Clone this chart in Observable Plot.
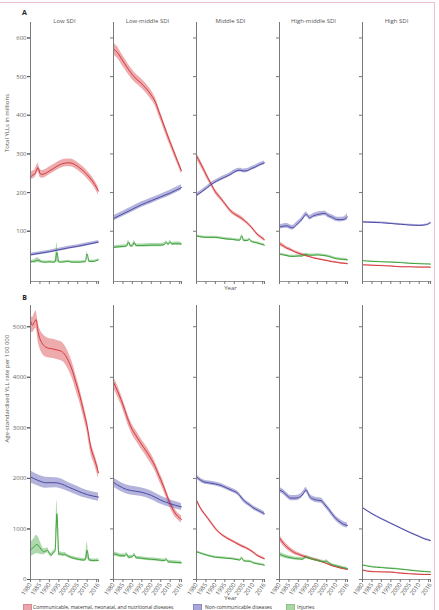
<!DOCTYPE html>
<html><head><meta charset="utf-8">
<script src="https://cdn.jsdelivr.net/npm/d3@7"></script>
<script src="https://cdn.jsdelivr.net/npm/@observablehq/plot@0.6"></script>
<style>
body{margin:0;background:#fff;font-family:"Open Sans",sans-serif;}
#wrap{position:relative;width:439px;height:610px;overflow:hidden;background:#fff;}
#border{position:absolute;left:-4px;top:2px;width:438px;height:640px;border-top:1.5px solid #efc0d0;border-right:1.5px solid #efc0d0;pointer-events:none;}
#pa{position:absolute;left:0;top:0;}
#pb{position:absolute;left:0;top:290px;}
#pa svg,#pb svg{overflow:visible;}
#legend{position:absolute;left:0;top:601px;width:439px;height:12px;font-size:5px;color:#333;}
#legend .sw{position:absolute;top:3px;width:9px;height:7px;box-sizing:border-box;}
#legend .lb{position:absolute;top:3px;white-space:nowrap;line-height:7px;}
</style></head>
<body><div id="wrap"><div id="pa"></div><div id="pb"></div><div id="legend"></div><div id="border"></div></div>
<script>
const sdiNames = ["Low SDI","Low-middle SDI","Middle SDI","High-middle SDI","High SDI"];
const causes = ["Communicable, maternal, neonatal, and nutritional diseases","Non-communicable diseases","Injuries"];
const lineColors = ["#d4383c","#4c4aa9","#3fa33b"];
const swatchFill = ["#eaa6ab","#a9a7d8","#a9d6a2"];
const swatchStroke = ["#d98a90","#8c8ac4","#8cc385"];
const yTicksA = [100,200,300,400,500,600];
const yTicksB = [0,1000,2000,3000,4000,5000];
const xTicks = [1980,1985,1990,1995,2000,2005,2010,2015,2016];
const xLabels = ["1980","1985","1990","1995","2000","2005","2010","","2016"];

// [year, value, uncertainty half-width] — Panel A: total YLLs in millions
const A_low_cmnn = [[1980,240,10],[1981,245,10],[1982,247,10],[1983,255,11],[1984,265,11],[1985,250,10],[1986,247,10],[1988,250,10],[1990,256,10],[1992,262,10],[1994,268,10],[1996,273,10],[1998,276,10],[2000,277,10],[2002,276,10],[2004,271,10],[2006,264,10],[2008,256,10],[2010,246,10],[2012,235,10],[2014,221,10],[2016,204,10]];
const A_low_ncd = [[1980,39,4],[1985,43,4],[1990,47,4],[1995,52,4],[2000,57,4],[2005,61,4],[2010,66,4],[2016,72,4]];
const A_low_inj = [[1980,21,3],[1982,22,4],[1983,24,6],[1984,25,6],[1985,23,5],[1986,21,3],[1988,20,3],[1990,21,3],[1992,20,3],[1993,21,3],[1994,45,25],[1995,21,3],[1996,20,3],[1998,21,3],[2000,22,3],[2002,20,3],[2005,20,3],[2008,21,3],[2009,21,3],[2010,41,6],[2011,22,3],[2013,22,3],[2016,26,3]];
const A_lmid_cmnn = [[1980,571,15],[1982,563,15],[1984,548,14],[1986,533,14],[1988,518,13],[1990,505,13],[1992,494,12],[1994,486,12],[1996,476,12],[1998,465,12],[2000,452,12],[2002,436,11],[2004,410,11],[2006,383,10],[2008,356,10],[2010,330,9],[2012,305,9],[2014,280,8],[2016,256,8]];
const A_lmid_ncd = [[1980,133,7],[1985,145,7],[1990,157,7],[1995,169,7],[2000,179,7],[2005,189,7],[2010,199,7],[2016,213,7]];
const A_lmid_inj = [[1980,58,4],[1983,60,4],[1986,61,4],[1987,62,4],[1988,72,5],[1989,62,4],[1990,62,4],[1991,71,5],[1992,63,4],[1995,63,4],[2000,64,4],[2005,64,4],[2007,66,4],[2008,71,4],[2009,66,4],[2010,72,4],[2011,67,4],[2013,68,4],[2016,67,4]];
const A_mid_cmnn = [[1980,295,8],[1982,277,8],[1984,258,7],[1986,238,7],[1988,220,6],[1990,202,6],[1992,190,6],[1994,178,5],[1996,165,5],[1998,153,5],[2000,145,5],[2002,139,5],[2004,133,5],[2006,125,4],[2008,116,4],[2010,105,4],[2012,93,4],[2014,85,4],[2016,78,4]];
const A_mid_ncd = [[1980,193,5],[1983,203,5],[1986,214,5],[1989,225,5],[1992,233,5],[1995,240,5],[1998,247,5],[2001,256,5],[2003,258,5],[2005,256,5],[2007,257,5],[2009,262,5],[2011,266,5],[2013,271,5],[2016,277,5]];
const A_mid_inj = [[1980,88,3],[1983,85,3],[1986,84,3],[1990,84,3],[1993,82,3],[1996,80,3],[1999,79,3],[2002,77,3],[2003,77,3],[2004,88,3],[2005,76,3],[2007,76,3],[2008,79,3],[2009,74,3],[2012,70,3],[2016,64,3]];
const A_hmid_cmnn = [[1980,68,5],[1982,62,5],[1984,56,4],[1986,52,4],[1988,47,3],[1990,43,3],[1992,40,3],[1994,37,3],[1996,34,2],[1998,31,2],[2000,29,2],[2002,27,2],[2004,25,2],[2006,23,2],[2008,21,2],[2010,20,2],[2012,18,2],[2014,17,2],[2016,16,2]];
const A_hmid_ncd = [[1980,111,6],[1982,113,6],[1984,114,6],[1985,112,6],[1987,109,6],[1989,117,6],[1991,126,6],[1993,138,6],[1994,144,6],[1995,140,6],[1996,135,6],[1998,140,6],[2000,143,6],[2002,145,6],[2004,146,6],[2006,140,6],[2008,136,6],[2010,131,6],[2012,130,6],[2014,131,6],[2016,137,8]];
const A_hmid_inj = [[1980,41,3],[1982,39,3],[1984,37,3],[1986,35,3],[1988,35,3],[1990,36,3],[1992,36,3],[1994,40,3],[1996,38,3],[1998,38,3],[2000,39,3],[2002,38,3],[2004,37,3],[2006,35,3],[2008,32,3],[2010,29,3],[2012,28,3],[2014,27,3],[2016,26,3]];
const A_high_cmnn = [[1980,13,1],[1985,12,1],[1990,11,1],[1995,10,1],[2000,8,1],[2005,8,1],[2010,7,1],[2016,7,1]];
const A_high_ncd = [[1980,124,2],[1985,123,2],[1990,122,2],[1995,120,2],[2000,118,2],[2005,116,2],[2010,115,2],[2014,117,2],[2016,122,2]];
const A_high_inj = [[1980,24,1],[1985,22,1],[1990,21,1],[1995,20,1],[2000,19,1],[2005,17,1],[2010,16,1],[2016,15,1]];

// Panel B: age-standardised YLL rate per 100 000
const B_low_cmnn = [[1980,5125,150],[1981,5030,150],[1982,5090,160],[1983,5140,170],[1984,4900,180],[1985,4760,190],[1986,4680,200],[1988,4600,200],[1990,4570,190],[1992,4560,190],[1994,4540,190],[1996,4520,190],[1998,4460,180],[2000,4330,170],[2002,4150,160],[2004,3900,150],[2006,3650,140],[2008,3350,130],[2010,3030,120],[2012,2600,120],[2014,2370,110],[2016,2110,110]];
const B_low_ncd = [[1980,2030,120],[1984,1960,110],[1988,1915,110],[1993,1915,100],[1996,1895,100],[2000,1830,90],[2005,1750,90],[2010,1680,80],[2016,1630,80]];
const B_low_inj = [[1980,580,130],[1981,620,150],[1982,650,160],[1983,690,180],[1984,680,170],[1985,630,130],[1986,580,90],[1987,550,60],[1988,560,50],[1989,580,50],[1990,520,40],[1991,480,40],[1992,530,40],[1993,560,40],[1994,1300,270],[1995,500,40],[1996,510,40],[1997,490,40],[1998,500,40],[1999,480,30],[2000,460,30],[2002,430,30],[2004,410,30],[2006,395,30],[2008,385,30],[2009,390,30],[2010,580,160],[2011,390,30],[2013,375,30],[2016,380,30]];
const B_lmid_cmnn = [[1980,3900,110],[1982,3740,110],[1984,3560,100],[1986,3350,100],[1988,3130,100],[1990,2960,100],[1992,2840,100],[1994,2720,100],[1996,2610,100],[1998,2500,100],[2000,2380,100],[2002,2240,90],[2004,2060,90],[2006,1890,90],[2008,1690,80],[2010,1500,80],[2012,1350,80],[2014,1250,70],[2016,1190,70]];
const B_lmid_ncd = [[1980,1920,90],[1983,1850,90],[1987,1780,90],[1991,1750,90],[1995,1725,85],[2000,1665,85],[2005,1570,80],[2010,1500,75],[2016,1435,70]];
const B_lmid_inj = [[1980,510,40],[1982,490,40],[1984,470,35],[1986,470,35],[1987,500,35],[1988,440,35],[1990,450,30],[1991,490,30],[1992,430,30],[1995,420,30],[1998,405,30],[2000,400,30],[2003,390,30],[2005,380,30],[2007,375,30],[2008,395,30],[2009,350,30],[2012,340,30],[2016,330,30]];
const B_mid_cmnn = [[1980,1570,30],[1982,1420,30],[1984,1310,30],[1986,1210,30],[1988,1110,30],[1990,1010,30],[1992,930,25],[1994,870,25],[1996,820,25],[1998,780,25],[2000,740,25],[2002,700,25],[2004,660,25],[2006,630,25],[2008,590,25],[2010,540,25],[2012,480,25],[2014,440,25],[2016,410,25]];
const B_mid_ncd = [[1980,2030,40],[1982,1970,40],[1984,1930,40],[1987,1910,40],[1990,1890,40],[1993,1860,40],[1996,1810,40],[1999,1760,40],[2002,1700,40],[2004,1610,40],[2006,1530,40],[2008,1480,40],[2010,1420,40],[2013,1360,40],[2016,1300,40]];
const B_mid_inj = [[1980,550,20],[1983,510,20],[1986,475,20],[1990,440,20],[1993,430,20],[1996,420,20],[1999,410,20],[2002,390,20],[2003,385,20],[2004,430,20],[2005,370,20],[2007,360,20],[2008,360,20],[2010,330,20],[2013,305,20],[2016,283,20]];
const B_hmid_cmnn = [[1980,820,60],[1982,720,55],[1984,640,50],[1986,580,45],[1988,530,40],[1990,500,35],[1992,470,30],[1994,445,30],[1996,420,25],[1998,400,25],[2000,380,25],[2002,355,20],[2004,330,20],[2006,300,20],[2008,270,20],[2010,250,20],[2012,230,20],[2014,215,20],[2016,200,20]];
const B_hmid_ncd = [[1980,1770,50],[1982,1730,50],[1984,1660,50],[1986,1610,50],[1988,1610,50],[1990,1620,50],[1992,1670,50],[1993,1720,50],[1994,1770,50],[1995,1720,50],[1996,1640,50],[1998,1590,50],[2000,1570,50],[2002,1560,50],[2004,1480,50],[2006,1390,50],[2008,1290,50],[2010,1200,50],[2012,1140,50],[2014,1090,50],[2016,1070,50]];
const B_hmid_inj = [[1980,500,40],[1982,470,40],[1984,445,35],[1986,430,35],[1988,415,30],[1990,410,30],[1992,400,30],[1994,440,30],[1996,420,30],[1998,395,25],[2000,380,25],[2002,360,25],[2004,350,25],[2005,365,25],[2006,330,25],[2008,290,20],[2010,270,20],[2012,250,20],[2014,230,20],[2016,215,20]];
const B_high_cmnn = [[1980,185,8],[1985,155,8],[1990,150,8],[1995,145,8],[2000,125,8],[2005,112,8],[2010,102,8],[2016,98,8]];
const B_high_ncd = [[1980,1420,15],[1985,1300,15],[1990,1200,15],[1995,1110,15],[2000,1020,15],[2005,930,15],[2010,850,15],[2013,800,15],[2016,770,15]];
const B_high_inj = [[1980,285,10],[1985,250,10],[1990,235,10],[1995,220,10],[2000,205,10],[2005,185,10],[2010,165,10],[2016,150,10]];

function rows(sdi, cause, arr){ return arr.map(([year,v,h]) => ({sdi, cause, year, v, lo: v - h, hi: v + h})); }
const [C, N, I] = causes;
const dataA = [].concat(
  rows(sdiNames[0],C,A_low_cmnn), rows(sdiNames[0],N,A_low_ncd), rows(sdiNames[0],I,A_low_inj),
  rows(sdiNames[1],C,A_lmid_cmnn), rows(sdiNames[1],N,A_lmid_ncd), rows(sdiNames[1],I,A_lmid_inj),
  rows(sdiNames[2],C,A_mid_cmnn), rows(sdiNames[2],N,A_mid_ncd), rows(sdiNames[2],I,A_mid_inj),
  rows(sdiNames[3],C,A_hmid_cmnn), rows(sdiNames[3],N,A_hmid_ncd), rows(sdiNames[3],I,A_hmid_inj),
  rows(sdiNames[4],C,A_high_cmnn), rows(sdiNames[4],N,A_high_ncd), rows(sdiNames[4],I,A_high_inj));
const dataB = [].concat(
  rows(sdiNames[0],C,B_low_cmnn), rows(sdiNames[0],N,B_low_ncd), rows(sdiNames[0],I,B_low_inj),
  rows(sdiNames[1],C,B_lmid_cmnn), rows(sdiNames[1],N,B_lmid_ncd), rows(sdiNames[1],I,B_lmid_inj),
  rows(sdiNames[2],C,B_mid_cmnn), rows(sdiNames[2],N,B_mid_ncd), rows(sdiNames[2],I,B_mid_inj),
  rows(sdiNames[3],C,B_hmid_cmnn), rows(sdiNames[3],N,B_hmid_ncd), rows(sdiNames[3],I,B_hmid_inj),
  rows(sdiNames[4],C,B_high_cmnn), rows(sdiNames[4],N,B_high_ncd), rows(sdiNames[4],I,B_high_inj));

function panel(data, opts){
  return Plot.plot({
    width: 439, height: opts.height,
    marginTop: opts.marginTop, marginBottom: opts.marginBottom, marginLeft: 29, marginRight: 8,
    style: {fontFamily: "'Open Sans', sans-serif", fontSize: "6px", color: "#555", background: "transparent"},
    fx: {domain: sdiNames, padding: 0.186, axis: null},
    x: {domain: [1980, 2016], axis: null},
    y: {domain: opts.yDomain, axis: null},
    color: {domain: causes, range: lineColors},
    marks: [
      Plot.areaY(data, {fx: "sdi", x: "year", y1: "lo", y2: "hi", z: "cause", fill: "cause", fillOpacity: 0.42, curve: "monotone-x"}),
      Plot.lineY(data, {fx: "sdi", x: "year", y: "v", z: "cause", stroke: "cause", strokeWidth: 1, curve: "monotone-x"}),
      Plot.ruleX([1980], {stroke: "#7a7a7a", strokeWidth: 1}),
      Plot.ruleY([opts.yDomain[0]], {stroke: "#7a7a7a", strokeWidth: 0.8}),
      Plot.axisY({ticks: opts.yTicks, tickSize: 3, tickFormat: () => "", facetAnchor: null, stroke: "#777"}),
      Plot.axisY({ticks: opts.yTicks, tickSize: 3, tickPadding: 1, tickFormat: d => String(d), fill: "#666", label: null, fontSize: 6}),
      opts.showYears
        ? Plot.axisX({ticks: xTicks, tickSize: 3, tickPadding: 1, tickRotate: -55, tickFormat: d => xLabels[xTicks.indexOf(d)], label: null, facetAnchor: null, fontSize: 6, fill: "#555", stroke: "#777"})
        : Plot.axisX({ticks: xTicks, tickSize: 3, tickFormat: () => "", label: null, facetAnchor: null, stroke: "#777"}),
      Plot.text([opts.ylabel], {fx: () => sdiNames[0], frameAnchor: "left", rotate: -90, dx: -23, fontSize: 6, fill: "#555"}),
      Plot.text([opts.letter], {fx: () => sdiNames[0], frameAnchor: "top-left", textAnchor: "middle", lineAnchor: "middle", dx: -6, dy: opts.letterDy, fontSize: 7, fontWeight: "bold", fill: "#222"}),
      Plot.text(["Year"], {fx: () => sdiNames[2], frameAnchor: "bottom", lineAnchor: "middle", dy: opts.yearDy, fontSize: 6, fill: "#555"}),
      ...(opts.titles ? [Plot.text(sdiNames, {fx: d => d, text: d => d, frameAnchor: "top", lineAnchor: "middle", dy: -1, fontSize: 6, fill: "#555"})] : [])
    ]
  });
}

document.getElementById("pa").appendChild(panel(dataA, {
  height: 296, marginTop: 22, marginBottom: 15, yDomain: [-30, 640], yTicks: yTicksA,
  ylabel: "Total YLLs in millions", letter: "A", letterDy: -10, yearDy: 7, titles: true, showYears: false
}));
document.getElementById("pb").appendChild(panel(dataB, {
  height: 311, marginTop: 15, marginBottom: 22, yDomain: [0, 5420], yTicks: yTicksB,
  ylabel: "Age-standardised YLL rate per 100 000", letter: "B", letterDy: -8, yearDy: 19, titles: false, showYears: true
}));

const legendLeft = [[23, 33], [193, 205], [286, 297]];
const lg = document.getElementById("legend");
causes.forEach((c, i) => {
  const sw = document.createElement("div");
  sw.className = "sw";
  sw.style.left = legendLeft[i][0] + "px";
  sw.style.background = swatchFill[i];
  sw.style.border = "1px solid " + swatchStroke[i];
  lg.appendChild(sw);
  const lb = document.createElement("div");
  lb.className = "lb";
  lb.style.left = legendLeft[i][1] + "px";
  lb.textContent = c;
  lg.appendChild(lb);
});
</script>
</body></html>
